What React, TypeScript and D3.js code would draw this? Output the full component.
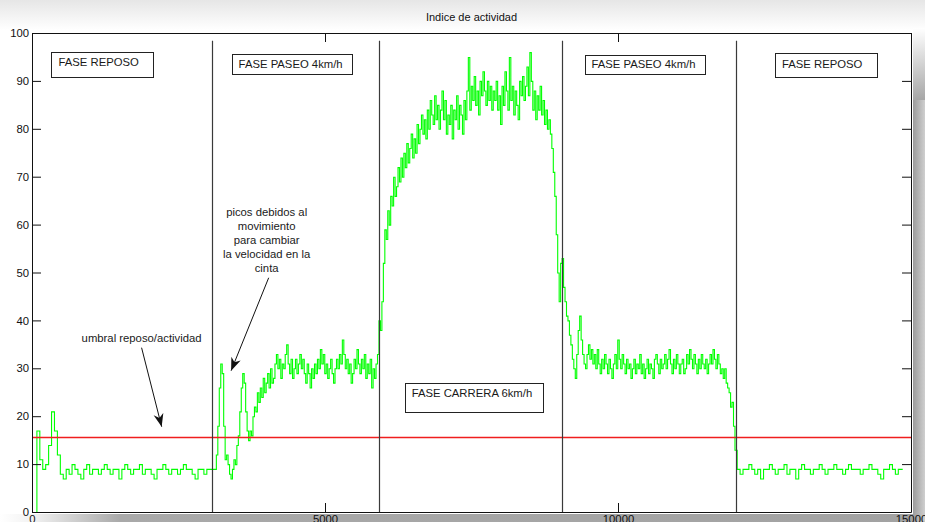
import * as d3 from 'd3';
import { useRef, useEffect } from 'react';

// each phase has its own start and sample step (x units)
const phaseStarts = [0, 3100, 5925, 9075, 12050];
const phaseSteps = [50, 25, 25, 25, 50];

const reposoInicial = [
  0, 0, 17, 11, 9, 10, 14, 21, 17, 12, 8, 7,
  9, 8, 10, 9, 8, 7, 9, 10, 8, 9,
  9, 8, 9, 10, 9, 8, 9, 9, 7, 9,
  10, 9, 8, 9, 9, 10, 8, 9, 9, 8,
  7, 9, 9, 10, 9, 8, 9, 9, 8, 9,
  10, 9, 9, 8, 7, 9, 9, 8, 9, 9,
];

const paseoSubida = [
  9, 9, 12, 18, 26, 31, 29, 18, 11, 12,
  10, 8, 7, 9, 11, 10, 14, 16, 21, 26,
  29, 27, 21, 17, 15, 17, 16, 20, 22, 21,
  25, 23, 26, 24, 28, 25, 27, 29, 26, 30,
  27, 28, 31, 33, 30, 32, 28, 31, 30, 33,
  35, 31, 29, 32, 28, 30, 32, 29, 31, 33,
  30, 32, 29, 27, 31, 29, 26, 30, 28, 31,
  29, 32, 30, 34, 31, 33, 29, 31, 28, 30,
  32, 29, 27, 30, 32, 30, 33, 31, 36, 33,
  30, 32, 29, 31, 27, 29, 32, 30, 34, 31,
  29, 32, 30, 33, 28, 31, 29, 32, 26, 30,
  28, 31, 33,
];

const carrera = [
  40, 38, 44, 52, 59, 57, 63, 60, 66, 64,
  70, 66, 68, 72, 69, 74, 70, 75, 72, 77,
  73, 76, 79, 74, 78, 75, 81, 77, 80, 83,
  79, 82, 78, 84, 80, 86, 83, 81, 87, 82,
  85, 80, 84, 88, 82, 86, 79, 83, 81, 85,
  78, 84, 82, 87, 80, 85, 83, 79, 86, 82,
  88, 95, 84, 89, 86, 91, 85, 88, 83, 90,
  87, 92, 88, 85, 90, 86, 89, 84, 88, 86,
  90, 84, 87, 81, 89, 85, 92, 88, 84, 95,
  86, 89, 83, 88, 85, 82, 90, 87, 91, 86,
  89, 93, 87, 96, 90, 84, 88, 82, 87, 84,
  89, 83, 86, 81, 84, 80, 82, 79, 76, 71,
  66, 58, 50, 44, 52, 53,
];

const paseoBajada = [
  47, 44, 41, 40, 37, 35, 32, 30, 28, 33,
  38, 41, 36, 33, 31, 30, 33, 35, 32, 34,
  31, 33, 30, 34, 31, 29, 32, 30, 33, 31,
  29, 32, 30, 28, 31, 33, 30, 36, 32, 30,
  33, 31, 29, 32, 30, 31, 28, 30, 32, 29,
  31, 30, 33, 29, 31, 28, 30, 32, 29, 31,
  30, 28, 32, 33, 31, 29, 32, 30, 31, 33,
  30, 32, 34, 31, 29, 32, 30, 33, 31, 29,
  31, 32, 29, 30, 33, 31, 34, 32, 30, 33,
  31, 29, 32, 30, 33, 31, 30, 32, 29, 31,
  33, 31, 34, 32, 30, 33, 31, 29, 30, 28,
  30, 27, 26, 25, 22, 23, 18, 13,
];

const reposoFinal = [
  9, 8, 9, 9, 10, 9, 8, 9, 7, 9,
  9, 10, 9, 8, 9, 9, 10, 8, 9, 9,
  7, 9, 10, 9, 9, 8, 9, 9, 10, 9,
  8, 9, 9, 10, 9, 9, 8, 9, 10, 9,
  9, 9, 8, 9, 9, 10, 9, 9, 8, 7,
  9, 9, 10, 9, 8, 9, 9,
];

const phaseLines = [3080, 5915, 9045, 12015];
const phaseLineTop = 98.4;
const umbral = 15.6;

const xTicks = [0, 5000, 10000, 15000];
const yTicks = [0, 10, 20, 30, 40, 50, 60, 70, 80, 90, 100];

const phaseLabels = ['FASE REPOSO', 'FASE PASEO 4km/h', 'FASE CARRERA 6km/h', 'FASE PASEO 4km/h', 'FASE REPOSO'];
const phaseLabelX = [452, 3526, 6479, 9548, 12798];
const phaseLabelY = [93.2, 92.6, 24.1, 92.6, 92.6];

const notaUmbral = 'umbral reposo/actividad';
const notaPicos = ['picos debidos al', 'movimiento', 'para cambiar', 'la velocidad en la', 'cinta'];

// box look per label (px): right padding, top offset from baseline, height
const boxStyle = [
  { right: 15, top: 14, h: 25 },
  { right: 9, top: 14, h: 20 },
  { right: 10, top: 14, h: 29 },
  { right: 9, top: 13, h: 19 },
  { right: 15, top: 15, h: 24 },
];

export default function App() {
  const svgRef = useRef<SVGSVGElement>(null);

  useEffect(() => {
    const width = 925;
    const height = 522;
    const font = '"Liberation Sans", Arial, Helvetica, sans-serif';

    const svg = d3.select(svgRef.current);
    svg.selectAll('*').remove();

    const x = d3.scaleLinear().domain([0, 15000]).range([32, 911]);
    const y = d3.scaleLinear().domain([0, 100]).range([512, 33]);

    const defs = svg.append('defs');
    const grad = (id: string, x2: number, y2: number, stops: [number, string][]) => {
      const g = defs.append('linearGradient').attr('id', id)
        .attr('x1', 0).attr('y1', 0).attr('x2', x2).attr('y2', y2);
      stops.forEach(([o, c]) => g.append('stop').attr('offset', o).attr('stop-color', c));
    };
    grad('topFade', 0, 1, [[0, '#e6e6e6'], [1, '#ffffff']]);
    grad('bottomShade', 1, 0, [[0, '#ffffff'], [0.035, '#f2f2f2'], [0.13, '#a9a9a9'], [1, '#a2a2a2']]);
    grad('rightShade', 1, 0, [[0, '#9c9c9c'], [1, '#cfcfcf']]);
    grad('rightTop', 0, 1, [[0, '#ffffff'], [1, '#a6a6a6']]);

    defs.append('marker')
      .attr('id', 'head')
      .attr('viewBox', '-13 -6 14 12')
      .attr('refX', 0).attr('refY', 0)
      .attr('markerUnits', 'userSpaceOnUse')
      .attr('markerWidth', 14).attr('markerHeight', 12)
      .attr('orient', 'auto')
      .append('path')
      .attr('d', 'M0,0L-13,-5L-9,0L-13,5Z')
      .attr('fill', '#111');

    // page with shadow around the figure
    svg.append('rect').attr('width', width).attr('height', height).attr('fill', '#fff');
    svg.append('rect').attr('width', width).attr('height', 30).attr('fill', 'url(#topFade)');
    svg.append('rect').attr('x', 0).attr('y', 514).attr('width', width).attr('height', 8).attr('fill', 'url(#bottomShade)');
    svg.append('rect').attr('x', 913).attr('y', 100).attr('width', 12).attr('height', 422).attr('fill', 'url(#rightShade)');
    svg.append('rect').attr('x', 913).attr('y', 28).attr('width', 12).attr('height', 72).attr('fill', 'url(#rightTop)');

    // title
    svg.append('text')
      .attr('x', (x(0) + x(15000)) / 2)
      .attr('y', 21)
      .attr('text-anchor', 'middle')
      .attr('font-family', font)
      .attr('font-size', 11)
      .attr('fill', '#111')
      .text('Indice de actividad');

    // activity signal
    const phases = [reposoInicial, paseoSubida, carrera, paseoBajada, reposoFinal];
    const serie = phases.flatMap((vals, p) => vals.map((v, i) => ({ t: phaseStarts[p] + i * phaseSteps[p], v })));
    const line = d3.line<{ t: number; v: number }>()
      .x((d) => x(d.t) + 0.5)
      .y((d) => y(d.v) + 0.5)
      .curve(d3.curveStep);
    svg.append('path')
      .datum(serie)
      .attr('d', line)
      .attr('fill', 'none')
      .attr('stroke', '#00ff00')
      .attr('stroke-width', 1.1);

    // threshold
    const yu = Math.round(y(umbral)) + 0.5;
    svg.append('path')
      .attr('d', `M${x(0)},${yu}H${x(15000) + 1}`)
      .attr('fill', 'none')
      .style('stroke', '#f01e1e')
      .style('stroke-width', '1.5px');

    // phase separators
    svg.selectAll('line.fase')
      .data(phaseLines)
      .enter().append('line')
      .attr('class', 'fase')
      .attr('x1', (d) => Math.round(x(d)) + 0.5).attr('x2', (d) => Math.round(x(d)) + 0.5)
      .attr('y1', y(phaseLineTop)).attr('y2', y(0))
      .attr('stroke', '#3a3a3a')
      .attr('stroke-width', 1.2);

    // axes, MATLAB style: ticks inside on all four sides
    const styleAxis = (g: d3.Selection<SVGGElement, unknown, null, undefined>) => {
      g.attr('font-family', font).attr('font-size', 11.3);
      g.select('.domain').attr('stroke', '#111');
      g.selectAll('.tick line').attr('stroke', '#111');
      g.selectAll('.tick text').attr('fill', '#111');
    };
    const fmt = d3.format('d');
    svg.append('g').attr('transform', `translate(${x(0)},0)`)
      .call(d3.axisLeft(y).tickValues(yTicks).tickFormat(fmt).tickSizeInner(-9).tickSizeOuter(0).tickPadding(3))
      .call(styleAxis);
    svg.append('g').attr('transform', `translate(${x(15000)},0)`)
      .call(d3.axisRight(y).tickValues(yTicks).tickSizeInner(-9).tickSizeOuter(0).tickFormat(() => ''))
      .call(styleAxis);
    svg.append('g').attr('transform', `translate(0,${y(0)})`)
      .call(d3.axisBottom(x).tickValues(xTicks).tickFormat(fmt).tickSizeInner(-9).tickSizeOuter(0).tickPadding(3))
      .call(styleAxis);
    svg.append('g').attr('transform', `translate(0,${y(100)})`)
      .call(d3.axisTop(x).tickValues(xTicks).tickSizeInner(-9).tickSizeOuter(0).tickFormat(() => ''))
      .call(styleAxis);

    // phase name boxes
    phaseLabels.forEach((label, i) => {
      const g = svg.append('g');
      const tx = x(phaseLabelX[i]);
      const ty = y(phaseLabelY[i]);
      const bs = boxStyle[i];
      const rect = g.append('rect');
      const txt = g.append('text')
        .attr('x', tx).attr('y', ty)
        .attr('font-family', font)
        .attr('font-size', 11.3)
        .attr('fill', '#1a1a1a')
        .text(label);
      const w = (txt.node() as SVGTextElement).getComputedTextLength();
      rect.attr('x', Math.round(tx - 7) + 0.5)
        .attr('y', Math.round(ty - bs.top) + 0.5)
        .attr('width', Math.round(w + 7 + bs.right))
        .attr('height', bs.h)
        .attr('fill', '#fff')
        .attr('stroke', '#222')
        .attr('stroke-width', 1);
    });

    // notes with arrows
    svg.append('text')
      .attr('x', x(1870)).attr('y', y(35.4))
      .attr('text-anchor', 'middle')
      .attr('font-family', font).attr('font-size', 11.3).attr('fill', '#1a1a1a')
      .text(notaUmbral);
    svg.append('line')
      .attr('x1', x(1870)).attr('y1', y(34.3))
      .attr('x2', x(2213)).attr('y2', y(17.8))
      .attr('stroke', '#111').attr('stroke-width', 1)
      .attr('marker-end', 'url(#head)');

    svg.selectAll('text.picos')
      .data(notaPicos)
      .enter().append('text')
      .attr('class', 'picos')
      .attr('x', x(4004))
      .attr('y', (d, i) => y(61.7) + i * 14)
      .attr('text-anchor', 'middle')
      .attr('font-family', font).attr('font-size', 11.3).attr('fill', '#1a1a1a')
      .text((d) => d);
    svg.append('line')
      .attr('x1', x(4039)).attr('y1', y(48.9))
      .attr('x2', x(3398)).attr('y2', y(29.5))
      .attr('stroke', '#111').attr('stroke-width', 1)
      .attr('marker-end', 'url(#head)');
  }, []);

  return (
    <div style={{ position: 'absolute', left: 0, top: 0 }}>
      <svg ref={svgRef} width={925} height={522} style={{ display: 'block' }}></svg>
    </div>
  );
}
